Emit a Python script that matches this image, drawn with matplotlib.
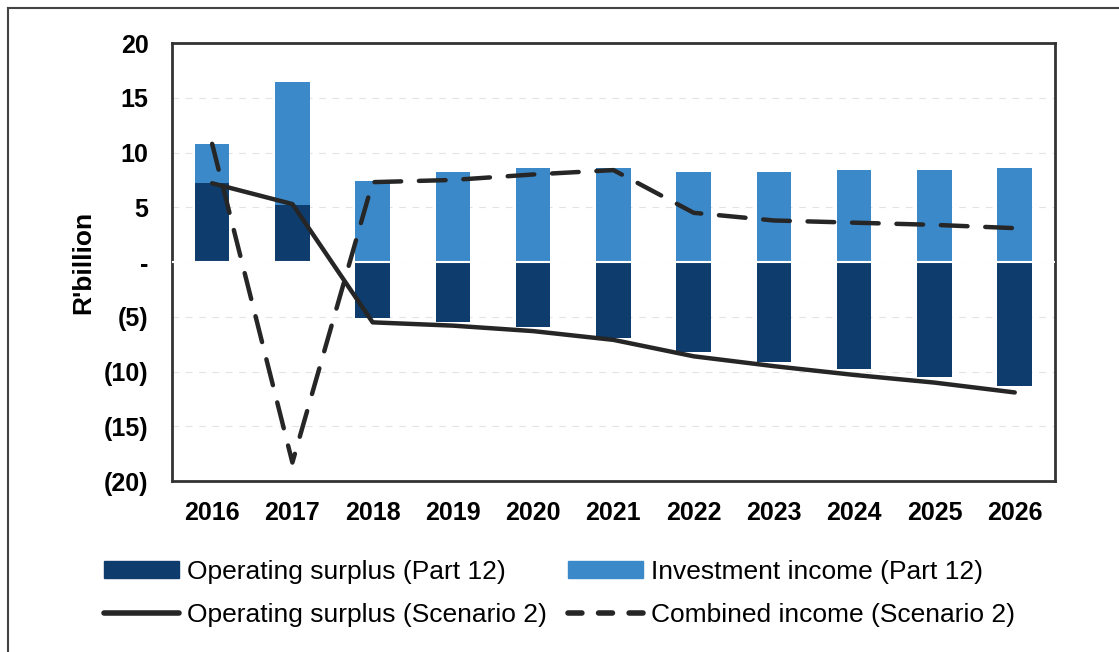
import numpy as np
import matplotlib.pyplot as plt
from matplotlib.lines import Line2D
from matplotlib.patches import Patch

plt.rcParams['font.family'] = ['Liberation Sans', 'DejaVu Sans']

years = ['2016', '2017', '2018', '2019', '2020', '2021', '2022', '2023', '2024', '2025', '2026']
op_surplus_p12 = [7.2, 5.2, -5.1, -5.5, -5.9, -6.9, -8.2, -9.1, -9.8, -10.5, -11.3]
inv_income_p12 = [3.6, 11.2, 7.4, 8.2, 8.6, 8.6, 8.2, 8.2, 8.4, 8.4, 8.6]
op_surplus_s2 = [7.2, 5.3, -5.5, -5.8, -6.3, -7.1, -8.6, -9.5, -10.3, -11.0, -11.9]
combined_s2 = [10.8, -18.3, 7.3, 7.5, 8.0, 8.4, 4.5, 3.8, 3.6, 3.4, 3.1]
yticks = [20, 15, 10, 5, 0, -5, -10, -15, -20]
ytick_labels = ['20', '15', '10', '5', '-', '(5)', '(10)', '(15)', '(20)']

dark = '#0d3c6d'
light = '#3b89c9'
line_c = '#262626'

fig = plt.figure(figsize=(11.19, 6.52), dpi=100)
ax = fig.add_axes([0.1537, 0.262, 0.789, 0.672])

x = np.arange(len(years))
bottoms = np.maximum(op_surplus_p12, 0)
ax.bar(x, op_surplus_p12, width=0.43, color=dark, zorder=2)
ax.bar(x, inv_income_p12, width=0.43, bottom=bottoms, color=light, zorder=2)
ax.axhline(0, color='white', lw=1.5, zorder=3)

ax.plot(x, op_surplus_s2, color=line_c, lw=3.2, solid_capstyle='round', zorder=4)
ax.plot(x, combined_s2, color=line_c, lw=3.2, dashes=(6, 4), dash_capstyle='round', zorder=4)

ax.set_xlim(-0.5, len(years) - 0.5)
ax.set_ylim(-20, 20)
ax.set_yticks(yticks)
ax.set_yticklabels(ytick_labels)
ax.set_xticks(x)
ax.set_xticklabels(years)
ax.tick_params(axis='y', length=0, pad=17, labelsize=18)
ax.tick_params(axis='x', length=0, pad=14, labelsize=18)
for lab in ax.get_xticklabels() + ax.get_yticklabels():
    lab.set_fontweight('bold')
ax.grid(axis='y', color='#e3e3e3', lw=0.8, ls=(0, (6, 6)), zorder=0)
for s in ax.spines.values():
    s.set_color('#333333')
    s.set_linewidth(2)
ax.set_ylabel("R'billion", fontsize=19, fontweight='bold', labelpad=6)

handles = [
    Patch(color=dark),
    Line2D([], [], color=line_c, lw=4, solid_capstyle='round'),
    Patch(color=light),
    Line2D([], [], color=line_c, lw=4, dashes=(2.5, 3), dash_capstyle='round'),
]
labels = ['Operating surplus (Part 12)', 'Operating surplus (Scenario 2)',
          'Investment income (Part 12)', 'Combined income (Scenario 2)']
fig.legend(handles, labels, ncol=2, loc='center', bbox_to_anchor=(0.5, 0.09),
           frameon=False, fontsize=19, handlelength=2.85, handletextpad=0.3,
           columnspacing=0.8, labelspacing=0.7, handleheight=0.6)

# scan frame at top and left
fig.add_artist(Line2D([0.007, 0.007], [0, 0.988], transform=fig.transFigure, color='#444444', lw=1.5))
fig.add_artist(Line2D([0.007, 1], [0.988, 0.988], transform=fig.transFigure, color='#444444', lw=1.5))

fig.savefig('out.png', dpi=100)
